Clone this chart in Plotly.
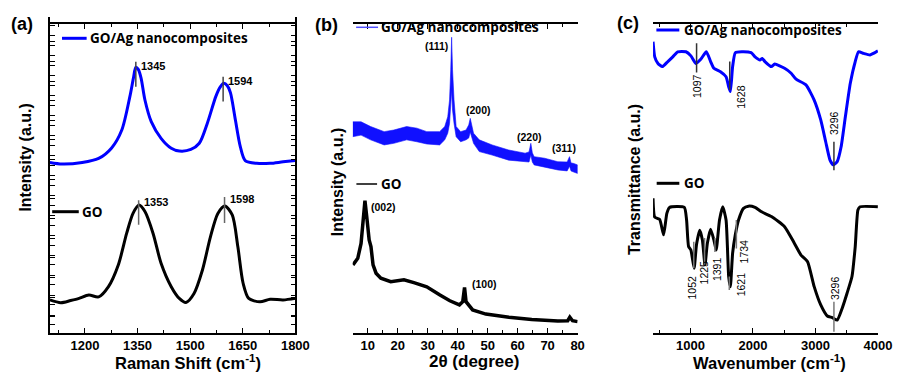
import plotly.graph_objects as go

# ---------------- DATA ----------------
# (a) Raman
raman_blue_x = [1100, 1135, 1192, 1239, 1276, 1305, 1328, 1338, 1345, 1352, 1360, 1371, 1389, 1417, 1446, 1469, 1502,
                1526, 1549, 1573, 1585, 1596, 1606, 1615, 1629, 1643, 1657, 1690, 1728, 1765, 1800]
raman_blue_y = [55.2, 54.7, 55.2, 56.5, 59.9, 65.7, 76.5, 82.4, 86.0, 85.3, 82.5, 75.4, 68.4, 63.0, 59.8, 58.9, 59.4,
                61.4, 67.9, 76.5, 79.5, 80.8, 80.0, 77.7, 68.9, 60.3, 55.8, 54.9, 54.9, 55.4, 55.8]
raman_go_x = [1100, 1131, 1159, 1183, 1211, 1239, 1267, 1295, 1319, 1337, 1354, 1371, 1394, 1417, 1446, 1469, 1488,
              1511, 1535, 1558, 1579, 1599, 1620, 1636, 1651, 1667, 1699, 1728, 1765, 1800]
raman_go_y = [10.7, 9.8, 10.5, 11.2, 12.3, 11.7, 15.0, 22.0, 32.3, 38.7, 41.4, 39.3, 32.3, 22.6, 15.0, 11.2, 9.9,
              12.8, 20.4, 31.2, 38.7, 41.1, 38.2, 27.9, 16.1, 11.2, 10.1, 10.9, 10.7, 11.2]
raman_blue_peaks = [1345, 1594]
raman_go_peaks = [1353, 1598]
raman_ticks = [1200, 1350, 1500, 1650, 1800]

# (b) XRD  (GO/Ag drawn as the band between the upper and lower edge of its noisy trace)
xrd_blue_x = [5, 7.8, 11, 15.5, 18.7, 23, 26.4, 29.7, 34, 35.7, 36.7, 37.3, 37.7, 38.0, 38.3, 38.8, 39.5, 41, 42.8,
              43.7, 44.2, 44.7, 45.3, 47.2, 51.5, 57, 62.5, 63.8, 64.4, 64.9, 65.5, 69, 73.4, 76.5, 77.3, 77.8, 78.5, 80]
xrd_blue_upper = [67.0, 67.0, 65.5, 63.9, 64.4, 65.5, 65.0, 63.9, 63.9, 65.5, 68.6, 73.9, 83.4, 93.7, 83.4, 73.9, 65.5,
                  63.9, 64.4, 66.0, 68.1, 66.0, 63.4, 61.3, 59.7, 58.1, 57.1, 57.5, 60.2, 57.2, 56.0, 55.5, 54.4, 54.3,
                  56.0, 54.0, 53.9, 53.4]
xrd_blue_lower = [62.3, 62.8, 61.3, 59.7, 60.2, 61.3, 60.7, 60.0, 59.7, 61.3, 63.4, 66.5, 70.7, 77.0, 70.7, 66.5, 62.3,
                  60.7, 61.3, 61.9, 63.8, 61.9, 60.2, 57.6, 56.5, 54.9, 54.4, 54.3, 56.5, 54.3, 53.4, 52.8, 51.8, 51.5,
                  53.0, 51.5, 51.2, 50.7]
xrd_go_x = [5.1, 6.7, 7.8, 8.6, 9.1, 9.7, 10.5, 11.1, 11.8, 12.8, 14.4, 17.7, 22.1, 25.4, 29.7, 34.1, 37.4, 40.6, 41.7,
            42.3, 42.8, 45.0, 49.4, 57.1, 64.7, 73.4, 76.7, 77.4, 78.3, 80]
xrd_go_y = [21.8, 23.9, 28.6, 38.1, 42.1, 37.0, 29.7, 27.6, 21.8, 19.2, 17.6, 16.5, 17.1, 16.2, 14.9, 12.3, 10.5, 9.2,
            10.2, 14.7, 10.2, 7.6, 6.3, 5.3, 4.6, 4.1, 4.2, 5.3, 4.2, 3.9]
xrd_blue_labels = ["(111)", "(200)", "(220)", "(311)"]
xrd_blue_label_x = [32.8, 46.9, 64.1, 75.5]
xrd_blue_label_y = [91.0, 70.7, 62.3, 58.8]
xrd_go_labels = ["(002)", "(100)"]
xrd_go_label_x = [15.2, 48.8]
xrd_go_label_y = [40.2, 15.8]
xrd_ticks = [10, 20, 30, 40, 50, 60, 70, 80]

# (c) FTIR
ftir_blue_x = [400, 427, 479, 548, 637, 716, 795, 927, 1006, 1085, 1164, 1253, 1322, 1374, 1480, 1569, 1611, 1638,
               1674, 1717, 1821, 1970, 2033, 2112, 2148, 2191, 2295, 2348, 2506, 2611, 2690, 2848, 2980, 3085, 3164,
               3233, 3285, 3348, 3411, 3479, 3558, 3637, 3690, 3769, 3874, 4000]
ftir_blue_y = [92.6, 87.8, 85.7, 84.7, 86.3, 87.8, 89.4, 89.4, 88.1, 85.7, 87.0, 89.4, 86.3, 84.2, 83.1, 81.5, 78.3,
               76.8, 84.7, 89.1, 89.4, 89.1, 87.8, 86.8, 87.3, 86.3, 84.7, 85.5, 84.2, 82.6, 80.7, 78.9, 74.1, 67.8,
               60.9, 55.1, 53.6, 54.6, 59.3, 68.8, 79.4, 86.3, 89.4, 88.9, 88.4, 89.7]
ftir_go_x = [400, 427, 506, 569, 621, 664, 901, 937, 969, 1006, 1058, 1095, 1148, 1190, 1232, 1269, 1322, 1374, 1411,
             1464, 1516, 1569, 1611, 1638, 1674, 1717, 1769, 1848, 1927, 2033, 2137, 2295, 2506, 2664, 2769, 2874,
             2980, 3085, 3190, 3269, 3348, 3427, 3506, 3585, 3637, 3680, 3716, 4000]
ftir_go_y = [43.0, 37.0, 36.3, 31.4, 38.2, 40.1, 40.1, 36.1, 27.7, 26.6, 20.8, 28.2, 32.9, 29.8, 21.9, 28.7, 33.2,
             29.8, 26.6, 36.1, 40.3, 36.1, 18.2, 15.0, 25.6, 31.4, 36.1, 39.8, 40.5, 40.1, 38.7, 37.2, 34.0, 28.7,
             25.0, 22.9, 15.0, 9.2, 5.7, 5.2, 4.4, 8.1, 12.9, 18.2, 27.7, 39.3, 40.3, 40.3]
ftir_blue_peaks = [1097, 1628, 3296]
ftir_blue_mark = [(82.8, 92.1), (77.3, 86.3), (51.9, 60.9)]
ftir_blue_label_pos = [(1106, 78.6), (1796, 75.2), (3305, 67.0)]
ftir_go_peaks = [1052, 1225, 1391, 1621, 1734, 3296]
ftir_go_mark = [(20.8, 29.2), (21.9, 30.4), (26.0, 30.4), (13.9, 18.2), (27.1, 36.1), (0.7, 10.2)]
ftir_go_label_pos = [(1022, 14.7), (1216, 19.5), (1426, 20.6), (1812, 15.8), (1848, 26.3), (3305, 14.7)]
ftir_ticks = [1000, 2000, 3000, 4000]

# ---------------- FIGURE ----------------
W, H = 905, 373


def PX(x):
    return x / W


def PY(y):
    return 1 - y / H


BLUE = "#0000ff"
TXT = "Liberation Sans"
LEG = "Open Sans"

fig = go.Figure()
fig.add_trace(go.Scatter(x=raman_blue_x, y=raman_blue_y, mode="lines", line=dict(color=BLUE, width=3, shape="spline", smoothing=0.8), xaxis="x", yaxis="y"))
fig.add_trace(go.Scatter(x=raman_go_x, y=raman_go_y, mode="lines", line=dict(color="black", width=3, shape="spline", smoothing=0.8), xaxis="x", yaxis="y"))

fig.add_trace(go.Scatter(x=xrd_blue_x + xrd_blue_x[::-1], y=xrd_blue_upper + xrd_blue_lower[::-1], mode="lines",
                         fill="toself", fillcolor="#1010ff", line=dict(color="#1010ff", width=0.6), xaxis="x2", yaxis="y2"))
fig.add_trace(go.Scatter(x=xrd_go_x, y=xrd_go_y, mode="lines", line=dict(color="black", width=3.5), xaxis="x2", yaxis="y2"))

fig.add_trace(go.Scatter(x=ftir_blue_x, y=ftir_blue_y, mode="lines", line=dict(color=BLUE, width=3, shape="spline", smoothing=0.5), xaxis="x3", yaxis="y3"))
fig.add_trace(go.Scatter(x=ftir_go_x, y=ftir_go_y, mode="lines", line=dict(color="black", width=3, shape="spline", smoothing=0.5), xaxis="x3", yaxis="y3"))

axc = dict(showline=True, linecolor="black", linewidth=1.6, mirror="ticks", ticks="inside", ticklen=5,
           tickwidth=1.3, tickcolor="black", showgrid=False, zeroline=False, fixedrange=True)
tickf = dict(family=TXT, size=13, color="black", weight="bold")

fig.update_layout(
    width=W, height=H, margin=dict(l=0, r=0, t=0, b=0), paper_bgcolor="white", plot_bgcolor="white",
    showlegend=False,
    xaxis=dict(axc, domain=[PX(50.7), PX(300)], range=[1100, 1800], tickvals=raman_ticks, tickfont=tickf,
               minor=dict(ticks="inside", ticklen=3, dtick=75, tick0=1125, tickcolor="black")),
    yaxis=dict(axc, domain=[PY(333), PY(24)], range=[0, 100], tick0=2.6, dtick=6.47, showticklabels=False),
    xaxis2=dict(axc, domain=[PX(358.2), PX(586.7)], range=[5, 80], tickvals=xrd_ticks, tickfont=tickf,
                minor=dict(ticks="inside", ticklen=3, dtick=5, tick0=5, tickcolor="black")),
    yaxis2=dict(axc, domain=[PY(334), PY(17.3)], range=[0, 100], tick0=5.46, dtick=6.2, showticklabels=False),
    xaxis3=dict(axc, domain=[PX(663.3), PX(891.7)], range=[400, 4000], tickvals=ftir_ticks, tickfont=tickf,
                minor=dict(ticks="inside", ticklen=3, dtick=500, tick0=500, tickcolor="black")),
    yaxis3=dict(axc, domain=[PY(334), PY(18.3)], range=[0, 100], tick0=6.0, dtick=6.335, showticklabels=False),
)

shapes = []
ann = []


def ptext(x, y, text, size, anchor="center", angle=0, family=TXT, weight="bold", color="black"):
    ann.append(dict(x=PX(x), y=PY(y), xref="paper", yref="paper", text=text, showarrow=False, xanchor=anchor,
                    yanchor="middle", textangle=angle, font=dict(family=family, size=size, color=color, weight=weight)))


# panel labels
ptext(22.5, 24, "(a)", 18)
ptext(331.7, 25, "(b)", 18)
ptext(638, 23, "(c)", 18)

# axis titles
ptext(191, 362, "Raman Shift (cm<sup>-1</sup>)", 16.5)
ptext(481.7, 361, "2θ (degree)", 17)
ptext(781.7, 362, "Wavenumber (cm<sup>-1</sup>)", 16.5)
ptext(25, 158, "Intensity (a.u.)", 16, angle=-90)
ptext(342.5, 182, "Intensity (a.u.)", 16, angle=-90)
ptext(644, 180, "Transmittance (a.u.)", 16, angle=-90)


# legends
def leg(x0, x1, y, color, width, text, tx, size):
    shapes.append(dict(type="line", xref="paper", yref="paper", x0=PX(x0), x1=PX(x1), y0=PY(y), y1=PY(y),
                       line=dict(color=color, width=width)))
    ptext(tx, y, text, size, anchor="left", family=LEG)


leg(63, 88, 38.3, BLUE, 3, "GO/Ag nanocomposites", 89, 13.5)
leg(53, 80, 211.7, "black", 3, "GO", 81, 13.5)
leg(361.7, 384, 27.3, "#5050ff", 1.5, "GO/Ag nanocomposites", 385, 13.5)
leg(362, 383, 184, "black", 1.5, "GO", 385, 13.5)
leg(666.7, 690, 30, BLUE, 3, "GO/Ag nanocomposites", 693, 13.5)
leg(667, 690, 183.3, "black", 3, "GO", 693, 13.5)


def mark(xa, ya, x, y0, y1, color="#444"):
    shapes.append(dict(type="line", xref=xa, yref=ya, x0=x, x1=x, y0=y0, y1=y1, line=dict(color=color, width=1.5)))


def dtext(xa, ya, x, y, text, size, anchor="left", angle=0, weight="bold"):
    ann.append(dict(x=x, y=y, xref=xa, yref=ya, text=text, showarrow=False, xanchor=anchor, yanchor="middle",
                    textangle=angle, font=dict(family=TXT, size=size, color="black", weight=weight)))


# (a) peak markers
raman_blue_mark = [(79.7, 87.8), (74.9, 82.9)]
raman_go_mark = [(35.0, 43.0), (35.6, 44.0)]
for p, (a, b) in zip(raman_blue_peaks, raman_blue_mark):
    mark("x", "y", p, a, b)
    dtext("x", "y", p + 8, b - 1.5, str(p), 11)
for p, (a, b) in zip(raman_go_peaks, raman_go_mark):
    mark("x", "y", p, a, b, "#666")
    dtext("x", "y", p + 10, b - 0.5, str(p), 11)

# (b) labels
for t, x, y in zip(xrd_blue_labels, xrd_blue_label_x, xrd_blue_label_y):
    dtext("x2", "y2", x, y, t, 10.5, anchor="center")
for t, x, y in zip(xrd_go_labels, xrd_go_label_x, xrd_go_label_y):
    dtext("x2", "y2", x, y, t, 10.5, anchor="center")

# (c) markers & labels
for p, (a, b), (lx, ly) in zip(ftir_blue_peaks, ftir_blue_mark, ftir_blue_label_pos):
    mark("x3", "y3", p, a, b, "#333")
    dtext("x3", "y3", lx, ly, str(p), 10.5, anchor="center", angle=-90, weight="normal")
for p, (a, b), (lx, ly) in zip(ftir_go_peaks, ftir_go_mark, ftir_go_label_pos):
    mark("x3", "y3", p, a, b, "#777")
    dtext("x3", "y3", lx, ly, str(p), 10.5, anchor="center", angle=-90, weight="normal")

fig.update_layout(shapes=shapes, annotations=ann)
fig.write_html("out.html", config={"displayModeBar": False},
               post_script="document.body.style.margin='0';document.body.style.padding='0';")
